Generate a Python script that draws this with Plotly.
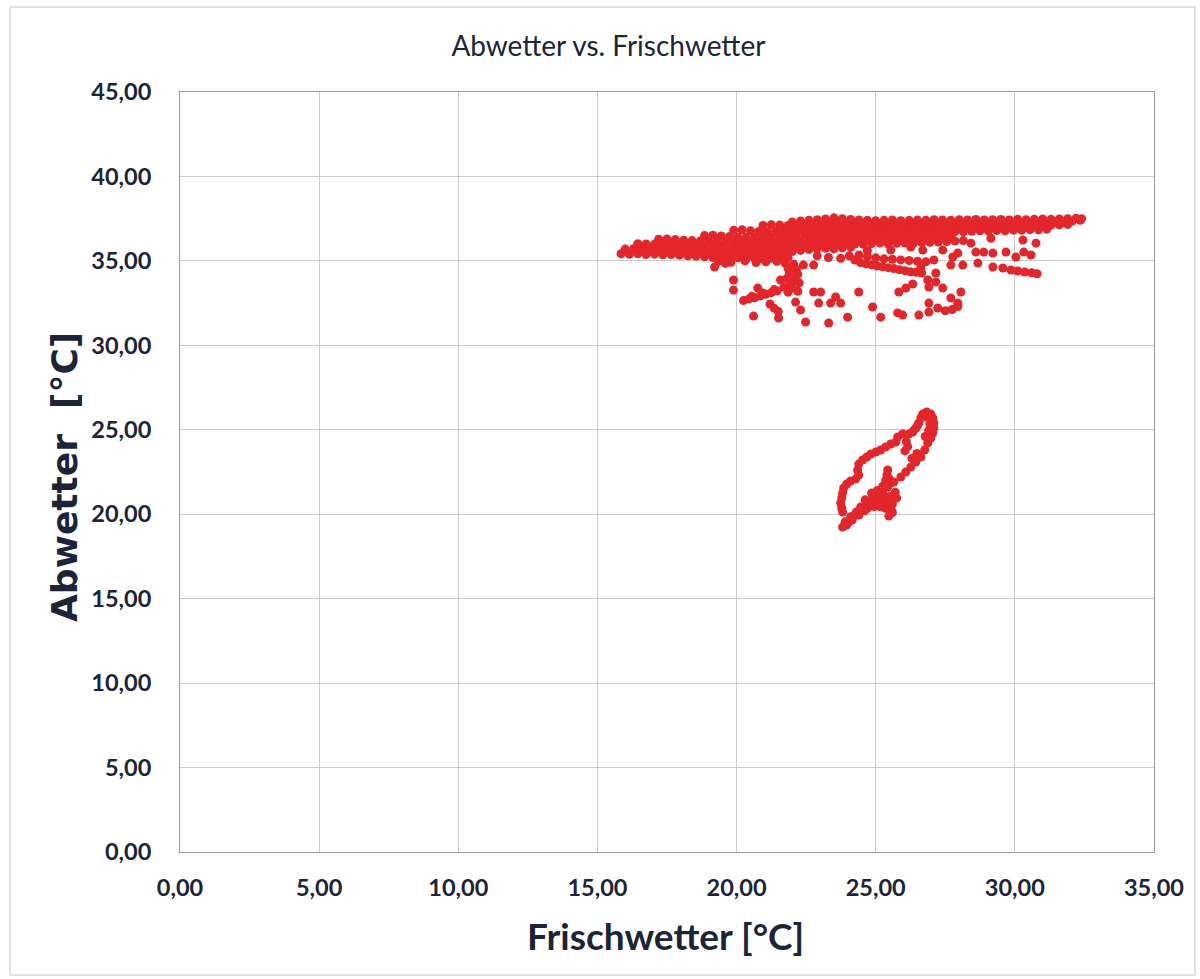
import plotly.graph_objects as go

# ---------------------------------------------------------------------------
# Messwerte: Frischwetter (x) gegen Abwetter (y), jeweils in °C
# ---------------------------------------------------------------------------

# dichtes Hauptband, zeilenweise von unten nach oben
band_a_x = [15.85, 16.15, 16.45, 16.75, 17.05, 17.35, 17.65, 17.95, 18.25, 18.55, 18.85,
            19.15, 19.45, 19.75, 20.05, 20.35, 20.65, 20.95, 21.25, 21.55, 21.85]
band_a_y = [35.42, 35.40, 35.42, 35.38, 35.40, 35.36, 35.38, 35.34, 35.30, 35.28, 35.24,
            35.20, 35.18, 35.15, 35.18, 35.14, 35.16, 35.12, 35.15, 35.18, 35.20]

band_a2_x = [19.35, 19.80, 20.30, 20.70, 21.05, 21.45]
band_a2_y = [34.98, 34.92, 35.00, 34.90, 34.95, 34.98]

band_b_x = [16.0, 16.3, 16.6, 16.9, 17.2, 17.5, 17.8, 18.1, 18.4, 18.7, 19.0, 19.3, 19.6, 19.9,
            20.2, 20.5, 20.8, 21.1, 21.4, 21.7, 22.0, 22.3, 22.6, 22.9, 23.2, 23.5, 23.8, 24.1]
band_b_y = [35.70, 35.72, 35.68, 35.70, 35.66, 35.68, 35.62, 35.60, 35.58, 35.55, 35.52, 35.50,
            35.48, 35.46, 35.48, 35.45, 35.48, 35.44, 35.46, 35.50, 35.55, 35.62, 35.68, 35.72,
            35.75, 35.72, 35.78, 35.80]

band_c_x = [16.45, 16.75, 17.05, 17.35, 17.65, 17.95, 18.25, 18.55, 18.85, 19.15, 19.45, 19.75,
            20.05, 20.35, 20.65, 20.95, 21.25, 21.55, 21.85, 22.15, 22.45, 22.75, 23.05, 23.35,
            23.65, 23.95, 24.25, 24.55, 24.85, 25.15, 25.45, 25.75, 26.05, 26.35, 26.65, 26.95,
            27.25, 27.55, 27.85, 28.15]
band_c_y = [36.02, 36.00, 35.98, 36.00, 35.96, 35.94, 35.92, 35.90, 35.86, 35.84, 35.80, 35.78,
            35.76, 35.78, 35.75, 35.76, 35.74, 35.78, 35.80, 35.88, 35.92, 35.98, 36.00, 36.02,
            36.00, 36.04, 36.00, 35.98, 36.02, 36.05, 36.00, 36.04, 36.06, 36.04, 36.08, 36.10,
            36.12, 36.15, 36.18, 36.20]

band_d_x = [17.2, 17.5, 17.8, 18.1, 18.4, 18.7, 19.0, 19.3, 19.6, 19.9, 20.2, 20.5, 20.8, 21.1,
            21.4, 21.7, 22.0, 22.3, 22.6, 22.9, 23.2, 23.5, 23.8, 24.1, 24.4, 24.7, 25.0, 25.3,
            25.6, 25.9, 26.2, 26.5, 26.8, 27.1, 27.4, 27.7]
band_d_y = [36.28, 36.30, 36.26, 36.22, 36.20, 36.18, 36.14, 36.12, 36.10, 36.08, 36.10, 36.06,
            36.08, 36.05, 36.08, 36.10, 36.14, 36.18, 36.22, 36.26, 36.30, 36.28, 36.32, 36.30,
            36.28, 36.32, 36.30, 36.34, 36.30, 36.32, 36.36, 36.34, 36.38, 36.40, 36.42, 36.45]

band_e_x = [18.85, 19.15, 19.45, 19.75, 20.05, 20.35, 20.65, 20.95, 21.25, 21.55, 21.85, 22.15,
            22.45, 22.75, 23.05, 23.35, 23.65, 23.95, 24.25, 24.55, 24.85, 25.15, 25.45, 25.75,
            26.05, 26.35, 26.65, 26.95, 27.25, 27.55, 27.85, 28.15, 28.45, 28.75, 29.05, 29.35,
            29.65, 29.95, 30.25, 30.55, 30.85, 31.15]
band_e_y = [36.50, 36.52, 36.48, 36.45, 36.42, 36.40, 36.38, 36.40, 36.38, 36.42, 36.45, 36.50,
            36.55, 36.58, 36.60, 36.62, 36.60, 36.62, 36.60, 36.58, 36.62, 36.60, 36.64, 36.62,
            36.66, 36.64, 36.68, 36.70, 36.72, 36.70, 36.74, 36.72, 36.75, 36.78, 36.76, 36.80,
            36.78, 36.82, 36.82, 36.85, 36.84, 36.88]

band_f_x = [19.9, 20.2, 20.5, 20.8, 21.1, 21.4, 21.7, 22.0, 22.3, 22.6, 22.9, 23.2, 23.5, 23.8,
            24.1, 24.4, 24.7, 25.0, 25.3, 25.6, 25.9, 26.2, 26.5, 26.8, 27.1, 27.4, 27.7, 28.0,
            28.3, 28.6, 28.9, 29.2, 29.5, 29.8, 30.1, 30.4, 30.7, 31.0, 31.3, 31.6, 31.9]
band_f_y = [36.82, 36.84, 36.78, 36.74, 36.72, 36.74, 36.78, 36.82, 36.86, 36.90, 36.92, 36.90,
            36.94, 36.92, 36.90, 36.92, 36.94, 36.92, 36.95, 36.92, 36.94, 36.96, 36.94, 36.98,
            36.96, 37.00, 36.98, 37.00, 37.02, 37.00, 37.04, 37.02, 37.05, 37.04, 37.06, 37.05,
            37.08, 37.10, 37.12, 37.14, 37.16]

band_g_x = [20.95, 21.25, 21.55, 21.85, 22.15, 22.45, 22.75, 23.05, 23.35, 23.65, 23.95, 24.25,
            24.55, 24.85, 25.15, 25.45, 25.75, 26.05, 26.35, 26.65, 26.95, 27.25, 27.55, 27.85,
            28.15, 28.45, 28.75, 29.05, 29.35, 29.65, 29.95, 30.25, 30.55, 30.85, 31.15, 31.45,
            31.75, 32.05, 32.35]
band_g_y = [37.10, 37.14, 37.12, 37.10, 37.08, 37.12, 37.15, 37.18, 37.20, 37.18, 37.20, 37.18,
            37.20, 37.22, 37.20, 37.18, 37.20, 37.22, 37.20, 37.22, 37.24, 37.22, 37.24, 37.22,
            37.25, 37.24, 37.26, 37.24, 37.26, 37.25, 37.28, 37.26, 37.28, 37.30, 37.28, 37.30,
            37.32, 37.34, 37.40]

band_h_x = [22.0, 22.3, 22.6, 22.9, 23.2, 23.5, 23.8, 24.1, 24.4, 24.7, 25.0, 25.3, 25.6, 25.9,
            26.2, 26.5, 26.8, 27.1, 27.4, 27.7, 28.0, 28.3, 28.6, 28.9, 29.2, 29.5, 29.8, 30.1,
            30.4, 30.7, 31.0, 31.3, 31.6, 31.9, 32.2, 32.4]
band_h_y = [37.30, 37.36, 37.40, 37.44, 37.48, 37.55, 37.50, 37.45, 37.42, 37.40, 37.38, 37.40,
            37.42, 37.38, 37.40, 37.42, 37.40, 37.44, 37.42, 37.40, 37.44, 37.42, 37.45, 37.42,
            37.44, 37.45, 37.42, 37.46, 37.44, 37.46, 37.48, 37.46, 37.48, 37.50, 37.52, 37.50]

# senkrechter Ausläufer bei ca. 22 °C und Spur nach links unten
stem_x = [21.75, 22.05, 21.85, 22.15, 21.90, 22.20, 21.80, 22.05, 21.95, 22.25, 21.70, 22.00,
          21.85, 22.20, 20.25, 20.45, 20.65, 20.85, 21.05, 21.25, 21.45, 20.55, 20.95, 21.35]
stem_y = [34.85, 34.80, 34.55, 34.50, 34.25, 34.20, 33.95, 33.95, 33.65, 33.70, 33.45, 33.40,
          33.15, 33.20, 32.65, 32.75, 32.82, 32.92, 33.02, 33.12, 33.22, 32.90, 33.10, 33.30]

# zwei Streifen unterhalb des Bandes zwischen 24 und 27 °C
arm_x = [24.05, 24.25, 24.45, 24.65, 24.85, 25.05, 25.25, 25.45, 25.65, 25.85, 26.05, 26.25,
         26.45, 26.65, 24.40, 24.70, 25.00, 25.30, 25.60, 25.90, 26.20, 26.50, 26.80]
arm_y = [35.30, 35.05, 34.90, 34.82, 34.76, 34.70, 34.65, 34.60, 34.55, 34.48, 34.42, 34.36,
         34.32, 34.28, 35.35, 35.25, 35.18, 35.12, 35.10, 35.06, 35.02, 34.98, 34.95]

# vereinzelte Messpunkte unter dem Band
loose_x = [19.21, 19.89, 19.89, 20.76, 20.61, 21.58, 21.51, 21.20, 21.35, 21.50, 22.12, 22.30,
           22.48, 22.77, 23.02, 22.95, 23.38, 23.56, 23.74, 23.31, 23.99, 24.39, 24.89, 25.18,
           25.83, 26.08, 26.33, 25.79, 25.97, 26.55, 26.91, 26.91, 27.23, 27.50, 27.75, 27.95,
           27.95, 27.70, 28.06, 27.41, 26.91, 27.16, 26.87, 27.16, 26.62, 27.09, 27.70, 28.13,
           28.67, 29.21, 29.57, 29.86, 30.10, 30.35, 30.60, 30.80, 27.77, 28.60, 28.88, 29.21,
           29.68, 30.04, 30.32, 30.58, 30.29, 30.76, 28.42, 29.14, 25.54, 26.26, 26.69, 27.41,
           27.95, 24.70, 22.40, 22.77, 23.30, 23.74, 22.90, 19.60]
loose_y = [34.64, 33.87, 33.27, 33.39, 31.73, 33.87, 31.62, 32.45, 32.20, 32.00, 32.56, 32.09,
           31.38, 33.16, 33.16, 32.50, 32.50, 32.86, 32.50, 31.32, 31.67, 33.16, 32.27, 31.67,
           33.16, 33.39, 33.63, 31.92, 31.79, 31.79, 31.97, 32.50, 32.21, 32.05, 32.12, 32.30,
           32.50, 32.80, 33.16, 33.39, 33.45, 33.75, 33.87, 34.28, 34.58, 35.05, 34.75, 34.75,
           34.87, 34.64, 34.58, 34.46, 34.40, 34.34, 34.30, 34.24, 35.23, 35.52, 35.52, 35.46,
           35.52, 35.23, 35.52, 35.35, 36.23, 36.05, 36.05, 36.34, 35.64, 35.82, 35.64, 35.64,
           35.46, 35.60, 34.75, 34.75, 35.20, 35.15, 35.30, 34.85]

# abgesetzte Schleife zwischen 19 und 26 °C Abwetter
loop_x = [23.81, 24.03, 24.21, 24.33, 24.46, 24.68, 24.93, 25.18, 25.43, 25.65, 25.90, 26.08,
          26.26, 26.44, 26.62, 26.76, 26.87, 26.98, 27.05, 27.09, 27.09, 27.05, 26.98, 26.83,
          26.69, 26.62, 26.55, 26.44, 26.33, 26.19,
          26.51, 26.37, 25.97, 25.79, 25.72, 25.54, 25.36, 25.18, 25.00, 24.82, 24.68, 24.53,
          24.39, 24.35, 24.39, 24.28, 24.10, 23.96, 23.85, 23.81, 23.78, 23.74, 23.78, 23.81,
          26.10, 26.15, 26.05,
          25.43, 25.40, 25.36, 25.47, 25.32, 25.50, 25.25, 24.90, 25.10, 25.30, 25.50, 25.00,
          25.20, 25.40, 25.60, 24.80, 24.95, 25.15, 25.35, 25.55, 24.70, 25.60, 25.54, 25.47,
          23.95, 24.15, 24.40, 24.60, 25.70, 25.75,
          23.90, 24.10, 24.30, 24.55, 24.75, 26.78, 26.90, 26.95, 26.85, 25.05, 25.25, 24.62,
          24.85, 26.30, 26.48]
loop_y = [19.24, 19.54, 19.89, 20.15, 20.43, 20.72, 21.02, 21.31, 21.61, 21.91, 22.20, 22.50,
          22.79, 23.09, 23.39, 23.80, 24.22, 24.51, 24.81, 25.10, 25.40, 25.70, 25.93, 26.05,
          25.93, 25.70, 25.40, 25.10, 24.87, 24.75,
          25.28, 24.98, 24.75, 24.57, 24.27, 24.16, 23.98, 23.80, 23.68, 23.56, 23.39, 23.21,
          22.97, 22.62, 22.32, 22.08, 21.97, 21.79, 21.55, 21.26, 20.96, 20.66, 20.37, 20.13,
          24.30, 24.00, 23.75,
          22.62, 22.32, 22.02, 22.14, 21.73, 21.80, 21.43, 21.05, 21.05, 21.10, 21.05, 20.75,
          20.75, 20.65, 20.60, 20.60, 20.45, 20.45, 20.35, 20.30, 20.35, 20.10, 20.07, 19.89,
          19.35, 19.65, 19.95, 20.20, 21.30, 20.95,
          19.55, 19.85, 20.10, 20.40, 20.60, 24.60, 24.95, 25.35, 25.75, 21.40, 21.65, 20.85,
          21.25, 23.30, 23.60]

x_ticks = [0, 5, 10, 15, 20, 25, 30, 35]
y_ticks = [0, 5, 10, 15, 20, 25, 30, 35, 40, 45]

# ---------------------------------------------------------------------------
point_color = "#e3262b"
groups = [
    (band_a_x, band_a_y), (band_a2_x, band_a2_y), (band_b_x, band_b_y),
    (band_c_x, band_c_y), (band_d_x, band_d_y), (band_e_x, band_e_y),
    (band_f_x, band_f_y), (band_g_x, band_g_y), (band_h_x, band_h_y),
    (stem_x, stem_y), (arm_x, arm_y), (loose_x, loose_y), (loop_x, loop_y),
]
all_x = [v for gx, _ in groups for v in gx]
all_y = [v for _, gy in groups for v in gy]

fig = go.Figure()
fig.add_trace(go.Scatter(
    x=all_x, y=all_y, mode="markers",
    marker=dict(color=point_color, size=9, line=dict(width=0)),
    showlegend=False, hoverinfo="x+y",
))

text_color = "#1c2437"
tick_font = dict(family="Lato", size=23.5, color=text_color, weight="bold")
grid = "#cdcdcd"
axis_line = "#9a9a9a"

fig.update_layout(
    width=1200, height=979,
    margin=dict(l=180, r=46, t=92, b=127),
    paper_bgcolor="white", plot_bgcolor="white",
    separators=",.",
    title=dict(text="Abwetter vs. Frischwetter", x=0.507, xref="container", xanchor="center",
               y=1 - 46 / 979, yref="container", yanchor="middle",
               font=dict(family="Lato", size=28, color=text_color)),
    xaxis=dict(range=[0, 35], tickvals=x_ticks, tickformat=".2f", showgrid=True,
               gridcolor=grid, gridwidth=1, showline=True, linecolor=axis_line, mirror=True,
               zeroline=False, ticks="", tickfont=tick_font, ticklabelstandoff=15),
    yaxis=dict(range=[0, 45], tickvals=y_ticks, tickformat=".2f", showgrid=True,
               gridcolor=grid, gridwidth=1, showline=True, linecolor=axis_line, mirror=True,
               zeroline=False, ticks="", tickfont=tick_font, ticklabelstandoff=23),
    annotations=[
        dict(text="Frischwetter [°C]", xref="paper", yref="paper",
             x=(665 - 180) / 974, y=(852 - 936) / 760, xanchor="center", yanchor="middle",
             showarrow=False, font=dict(family="Lato", size=37, color=text_color, weight="bold")),
        dict(text="Abwetter\u00a0 [°C]", xref="paper", yref="paper", textangle=-90,
             x=(64 - 180) / 974, y=(852 - 477) / 760, xanchor="center", yanchor="middle",
             showarrow=False,
             font=dict(family="DejaVu Sans", size=36, color=text_color, weight="bold")),
    ],
    shapes=[
        dict(type="rect", xref="paper", yref="paper",
             x0=(10 - 180) / 974, x1=(1195 - 180) / 974,
             y0=(852 - 975) / 760, y1=(852 - 7) / 760,
             line=dict(color="#c4c4c4", width=1), fillcolor="rgba(0,0,0,0)", layer="below"),
    ],
)

fig.write_html("out.html")
